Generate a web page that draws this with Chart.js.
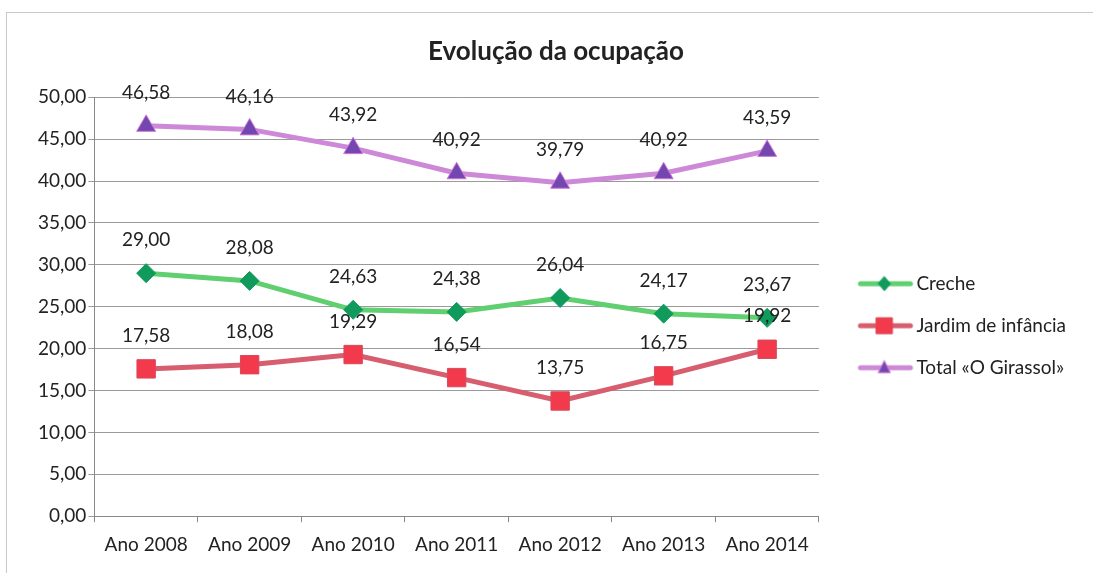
<!DOCTYPE html>
<html>
<head>
<meta charset="utf-8">
<script src="https://cdn.jsdelivr.net/npm/chart.js@4.4.1/dist/chart.umd.min.js"></script>
<style>
    html, body { margin: 0; padding: 0; background: #fff; }
    #frame { position: absolute; left: 6px; top: 12px; width: 1087px; height: 561px;
             border-top: 1px solid #c8c8c8; border-left: 1px solid #c8c8c8; }
    #wrap { position: absolute; left: 0; top: 0; width: 1093px; height: 573px; }
</style>
</head>
<body>
<div id="frame"></div>
<div id="wrap"><canvas id="chart" width="1093" height="573"></canvas></div>
<script>
var labels = ['Ano 2008', 'Ano 2009', 'Ano 2010', 'Ano 2011', 'Ano 2012', 'Ano 2013', 'Ano 2014'];
var creche = [29.00, 28.08, 24.63, 24.38, 26.04, 24.17, 23.67];
var jardim = [17.58, 18.08, 19.29, 16.54, 13.75, 16.75, 19.92];
var total = [46.58, 46.16, 43.92, 40.92, 39.79, 40.92, 43.59];

var fontFam = "Lato, 'Open Sans', sans-serif";

function fmt(v) {
    return v.toFixed(2).replace('.', ',');
}

// legend sample: line with the marker in the middle (drawn right of centre, legend box is wider)
function legendIcon(lineColor, fill, border, shape) {
    var c = document.createElement('canvas');
    c.width = 80;
    c.height = 22;
    var g = c.getContext('2d');
    var mx = 50;
    g.strokeStyle = lineColor;
    g.lineWidth = 5;
    g.lineCap = 'round';
    g.beginPath();
    g.moveTo(26, 11);
    g.lineTo(76, 11);
    g.stroke();
    g.fillStyle = fill;
    g.strokeStyle = border;
    g.lineWidth = 1;
    g.beginPath();
    if (shape === 'rectRot') {
        g.moveTo(mx, 4); g.lineTo(mx + 6, 11); g.lineTo(mx, 18); g.lineTo(mx - 6, 11);
    } else if (shape === 'rect') {
        g.rect(mx - 8, 3, 16, 16);
    } else {
        g.moveTo(mx, 4); g.lineTo(mx + 6, 16); g.lineTo(mx - 6, 16);
    }
    g.closePath();
    g.fill();
    g.stroke();
    return c;
}

var valueLabels = {
    id: 'valueLabels',
    afterDatasetsDraw: function (chart) {
        var ctx = chart.ctx;
        ctx.save();
        ctx.font = '19px ' + fontFam;
        ctx.fillStyle = '#222';
        ctx.textAlign = 'center';
        ctx.textBaseline = 'middle';
        chart.data.datasets.forEach(function (ds, di) {
            chart.getDatasetMeta(di).data.forEach(function (pt, i) {
                ctx.fillText(fmt(ds.data[i]), pt.x, pt.y - 33);
            });
        });
        ctx.restore();
    }
};

var series = [
    { label: 'Creche', data: creche, line: '#5fcf6f', fill: '#109a5c', border: '#109a5c', style: 'rectRot', r: 9.5 },
    { label: 'Jardim de infância', data: jardim, line: '#d65e6e', fill: '#f23a4c', border: '#d84a5a', style: 'rect', r: 13 },
    { label: 'Total «O Girassol»', data: total, line: '#cd88d7', fill: '#7447b0', border: '#d07ad8', style: 'triangle', r: 11 }
];

var datasets = series.map(function (s) {
    return {
        label: s.label,
        data: s.data,
        borderColor: s.line,
        borderWidth: 5,
        backgroundColor: s.fill,
        pointBackgroundColor: s.fill,
        pointBorderColor: s.border,
        pointBorderWidth: 1,
        pointStyle: s.style,
        pointRadius: s.r,
        pointHoverRadius: s.r,
        tension: 0,
        _icon: legendIcon(s.line, s.fill, s.border, s.style)
    };
});

new Chart(document.getElementById('chart'), {
    type: 'line',
    data: { labels: labels, datasets: datasets },
    options: {
        responsive: false,
        animation: false,
        layout: { padding: { left: 36, right: 17, top: 0, bottom: 6 } },
        plugins: {
            title: {
                display: true,
                text: 'Evolução da ocupação',
                color: '#222',
                font: { family: fontFam, size: 26, weight: 'bold' },
                padding: { top: 36, bottom: 30 }
            },
            legend: {
                position: 'right',
                title: { display: true, text: '', padding: 35 },
                labels: {
                    usePointStyle: true,
                    pointStyleWidth: 65,
                    padding: 23,
                    color: '#222',
                    font: { family: fontFam, size: 19 },
                    generateLabels: function (chart) {
                        return chart.data.datasets.map(function (ds, i) {
                            return {
                                text: ds.label,
                                pointStyle: ds._icon,
                                datasetIndex: i,
                                fontColor: '#222',
                                lineWidth: 0
                            };
                        });
                    }
                }
            },
            tooltip: { enabled: false }
        },
        scales: {
            x: {
                offset: true,
                grid: {
                    offset: true,
                    drawOnChartArea: false,
                    drawTicks: true,
                    tickLength: 6,
                    color: '#888'
                },
                border: { color: '#888', width: 1 },
                ticks: {
                    color: '#222',
                    padding: 11,
                    font: { family: fontFam, size: 19 }
                }
            },
            y: {
                min: 0,
                max: 50,
                ticks: {
                    stepSize: 5,
                    color: '#222',
                    padding: 2,
                    font: { family: fontFam, size: 19 },
                    callback: function (v) { return fmt(v); }
                },
                grid: { color: '#9a9a9a', tickLength: 6, lineWidth: 1 },
                border: { color: '#888', width: 1 }
            }
        }
    },
    plugins: [valueLabels]
});
</script>
</body>
</html>
